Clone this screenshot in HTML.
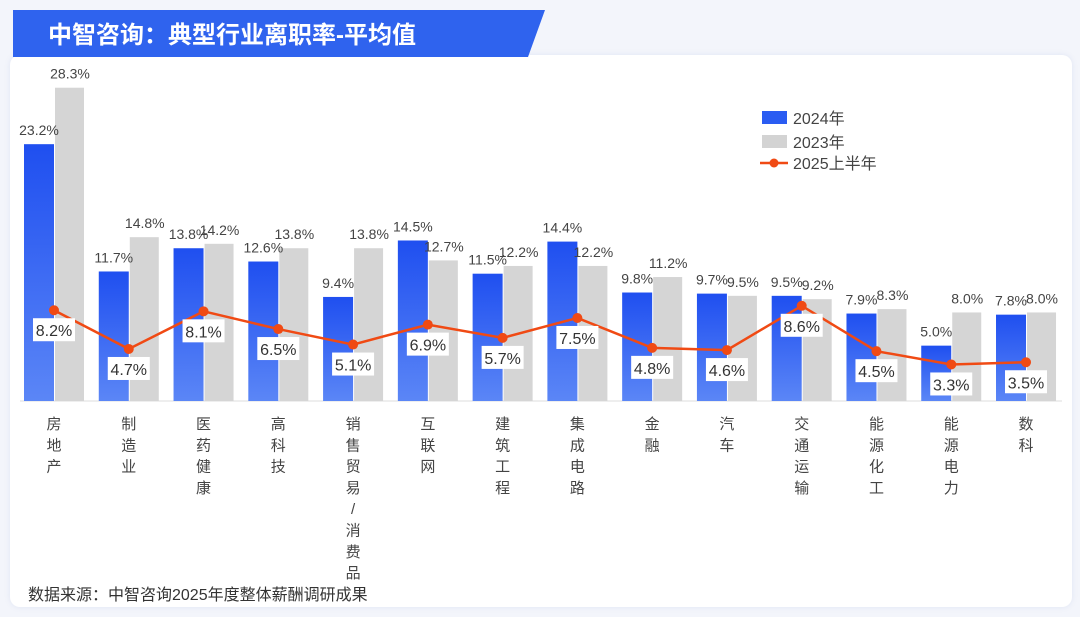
<!DOCTYPE html>
<html><head><meta charset="utf-8"><style>
body{margin:0;width:1080px;height:617px;background:#f3f5fb;overflow:hidden;font-family:"Liberation Sans","Noto Sans CJK SC",sans-serif;}
#panel{position:absolute;left:10px;top:55px;width:1062px;height:552px;background:#fff;border-radius:10px;box-shadow:0 0 6px rgba(120,140,200,0.15);}
svg{position:absolute;left:0;top:0;}
</style></head><body>
<div id="panel"></div>
<svg width="1080" height="617" id="chart">
<defs><linearGradient id="bg24" x1="0" y1="0" x2="0" y2="1"><stop offset="0" stop-color="#1f4ff0"/><stop offset="1" stop-color="#5b86f6"/></linearGradient></defs>
<polygon points="13,10 545,10 528,57 13,57" fill="#2f63ee"/>
<text x="48" y="43" font-size="24" font-weight="bold" fill="#fff">中智咨询：典型行业离职率-平均值</text>
<line x1="20" y1="401" x2="1062" y2="401" stroke="#ddd"/>
<g id="marks"></g>
<g>
<rect x="762" y="111" width="25" height="13" fill="#2a5cf2"/>
<text x="793" y="124" font-size="16" fill="#444">2024年</text>
<rect x="762" y="135" width="25" height="13" fill="#d3d3d3"/>
<text x="793" y="148" font-size="16" fill="#444">2023年</text>
<line x1="760" y1="163" x2="788" y2="163" stroke="#f04a14" stroke-width="2.5"/>
<circle cx="774" cy="163" r="4.5" fill="#f04a14"/>
<text x="793" y="169" font-size="16" fill="#444">2025上半年</text>
</g>
<text x="28" y="600" font-size="16" fill="#333">数据来源：中智咨询2025年度整体薪酬调研成果</text>
</svg>
<script>
const categories=["房地产","制造业","医药健康","高科技","销售贸易/消费品","互联网","建筑工程","集成电路","金融","汽车","交通运输","能源化工","能源电力","数科"];
const v2024=[23.2,11.7,13.8,12.6,9.4,14.5,11.5,14.4,9.8,9.7,9.5,7.9,5.0,7.8];
const v2023=[28.3,14.8,14.2,13.8,13.8,12.7,12.2,12.2,11.2,9.5,9.2,8.3,8.0,8.0];
const v2025h1=[8.2,4.7,8.1,6.5,5.1,6.9,5.7,7.5,4.8,4.6,8.6,4.5,3.3,3.5];
const NS="http://www.w3.org/2000/svg";
const g=document.getElementById('marks');
const y=v=>401-v*11.07;
const cx=i=>54+i*74.77;
function mk(t,a){const e=document.createElementNS(NS,t);for(const k in a)e.setAttribute(k,a[k]);g.appendChild(e);return e;}
categories.forEach((c,i)=>{
 let b=mk('rect',{x:cx(i)-30,y:y(v2024[i]),width:30,height:401-y(v2024[i]),fill:'url(#bg24)'});
 
 
 let r=mk('rect',{x:cx(i)+1,y:y(v2023[i]),width:29,height:401-y(v2023[i]),fill:'#d5d5d5'});
 
 
 let t1=mk('text',{x:cx(i)-15,y:y(v2024[i])-9,'font-size':14,fill:'#444','text-anchor':'middle'});t1.textContent=v2024[i].toFixed(1)+'%';
 
 
 let t2=mk('text',{x:cx(i)+16,y:y(v2023[i])-9,'font-size':14,fill:'#444','text-anchor':'middle'});t2.textContent=v2023[i].toFixed(1)+'%';
 
 
 [...c].forEach((ch,k)=>{let t=mk('text',{x:cx(i),y:429+k*21.3,'font-size':15,fill:'#444','text-anchor':'middle'});t.textContent=ch;
  
  });
});
let pl=mk('polyline',{points:v2025h1.map((v,i)=>cx(i)+','+y(v)).join(' '),fill:'none',stroke:'#f04a14','stroke-width':2.5});


v2025h1.forEach((v,i)=>{
 let c=mk('circle',{cx:cx(i),cy:y(v),r:5,fill:'#f04a14'});
 
 
 let bx=mk('rect',{x:cx(i)-21,y:y(v)+8,width:42,height:23,fill:'#fff'});
 
 
 let t=mk('text',{x:cx(i),y:y(v)+26,'font-size':16,fill:'#333','text-anchor':'middle'});t.textContent=v.toFixed(1)+'%';
 
 
});
</script>
</body></html>
